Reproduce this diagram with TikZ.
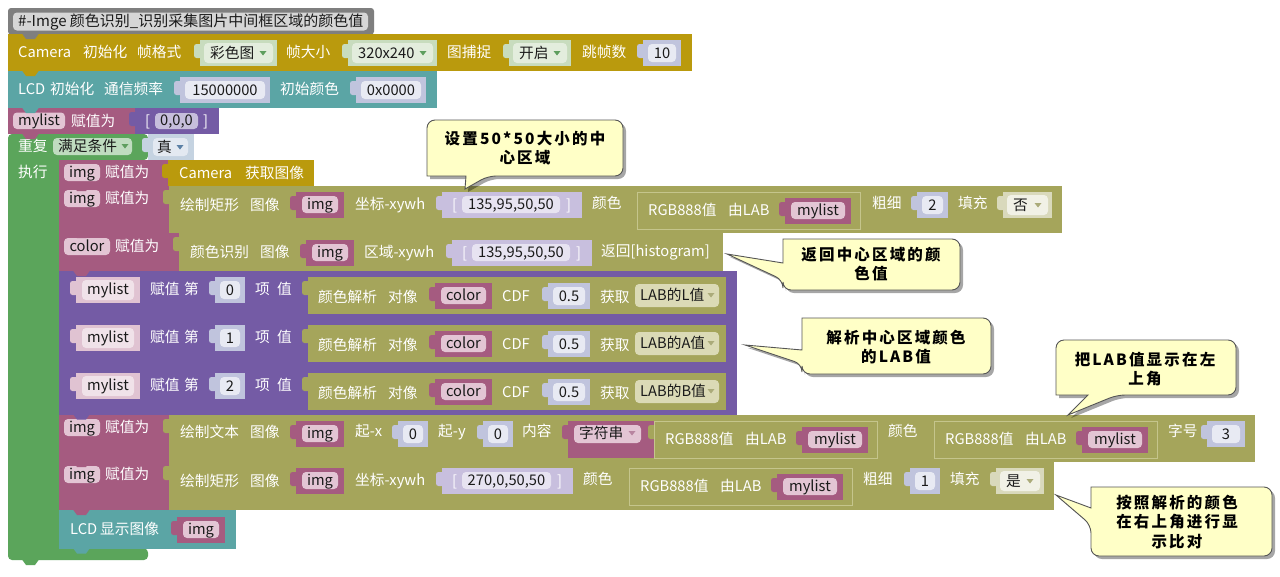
\documentclass[tikz,border=0pt]{standalone}
\usepackage{fontspec}
\setmainfont{Noto Sans CJK SC}
\definecolor{cmt}{HTML}{7F7F7F}
\definecolor{cmti}{HTML}{D6D6D6}
\definecolor{gold}{HTML}{BA9A0D}
\definecolor{tealc}{HTML}{5BA5A5}
\definecolor{magc}{HTML}{A55B80}
\definecolor{pinkp}{HTML}{E3C5D4}
\definecolor{purc}{HTML}{745BA5}
\definecolor{purin}{HTML}{C6BEDC}
\definecolor{grc}{HTML}{5BA55B}
\definecolor{grp}{HTML}{BFDCBF}
\definecolor{fgo}{HTML}{C8DCBE}
\definecolor{fgi}{HTML}{E3EDDD}
\definecolor{numo}{HTML}{C0C4DD}
\definecolor{numi}{HTML}{E8EAF3}
\definecolor{olc}{HTML}{A5A55B}
\definecolor{oll}{HTML}{C5C58C}
\definecolor{labp}{HTML}{DBDAB6}
\definecolor{ddo}{HTML}{D9D9BC}
\definecolor{ddi}{HTML}{F1F1E6}
\definecolor{lso}{HTML}{C8BFDE}
\definecolor{lsi}{HTML}{E7E3F1}
\definecolor{boo}{HTML}{C5D3E1}
\definecolor{booi}{HTML}{E3E9F1}
\definecolor{pvo}{HTML}{E0C3D2}
\definecolor{pvi}{HTML}{F0E2E9}
\definecolor{trg}{HTML}{5E9E5E}
\definecolor{tro}{HTML}{ABAB7A}
\definecolor{trb}{HTML}{5B80A5}
\definecolor{trp}{HTML}{B884A0}
\definecolor{cfill}{HTML}{FFFFC7}
\definecolor{cline}{HTML}{555555}
\definecolor{txd}{HTML}{1A1A1A}
\newcount\nidx
\newcommand\nxt{\global\advance\nidx by 1 }
\tikzset{
  lbl/.style={inner sep=0pt, text=white, font=\fontsize{14.7}{17}\selectfont},
  dk/.style={inner sep=0pt, text=txd, font=\fontsize{14.7}{17}\selectfont},
  cmtxt/.style={inner sep=0pt, text=txd, font=\fontsize{15}{17}\selectfont},
  callbox/.style={fill=cfill, draw=cline, line width=0.9pt, rounded corners=8},
  callshadow/.style={fill=black, opacity=0.35, rounded corners=8, shift={(3,3)}},
  ctext/.style={inner sep=0pt, align=center, text=black,
    font=\fontsize{15.5}{19.5}\selectfont\bfseries\addfontfeature{LetterSpace=14}},
}
% white label, left, vertical centre y
\newcommand\wl[3]{\nxt\node[lbl,anchor=base west] (n\the\nidx) at ({#1},{#2+5}) {#3};}
\newcommand\dkl[3]{\nxt\node[dk,anchor=base west] (n\the\nidx) at ({#1},{#2+5}) {#3};}
\newcommand\dkc[3]{\nxt\node[dk,anchor=base] (n\the\nidx) at ({#1},{#2+5}) {#3};}
% value block with left puzzle tab
\newcommand\bkv[5]{%
  \fill[#5,rounded corners=2.5] ({#1-6},{#2+4}) rectangle ({#1+2},{#2+18});
  \fill[#5] ({#1},{#2}) rectangle ({#3},{#4});}
\newcommand\bktri[3]{\fill[#3] ({#1-3.5},{#2-2}) -- ({#1+3.5},{#2-2}) -- ({#1},{#2+2.5}) -- cycle;}
\newcommand\pillt[6]{%
  \fill[#5,rounded corners=4] ({#1},{#2}) rectangle ({#3},{#4});
  \dkc{(#1+#3)/2}{(#2+#4)/2}{#6}}
\newcommand\numb[5]{%
  \bkv{#1}{#2}{#3}{#4}{numo}
  \fill[numi,rounded corners=4] ({#1+5},{#2+4}) rectangle ({#3-5},{#4-4});
  \dkc{(#1+#3)/2}{(#2+#4)/2}{#5}}
\newcommand\varb[5]{%
  \bkv{#1}{#2}{#3}{#4}{magc}
  \fill[pinkp,rounded corners=4] ({#1+6},{#2+4}) rectangle ({#3-6},{#4-5});
  \dkc{(#1+#3)/2}{(#2+#4)/2-0.5}{#5}}
\newcommand\listb[5]{%
  \bkv{#1}{#2}{#3}{#4}{lso}
  \wl{#1+10}{(#2+#4)/2}{[}
  \fill[lsi,rounded corners=4] ({#1+20},{#2+4}) rectangle ({#3-22},{#4-5});
  \dkc{(#1+#3)/2-1}{(#2+#4)/2-0.5}{#5}
  \wl{#3-16}{(#2+#4)/2}{]}}
\newcommand\ddf[8]{%
  \bkv{#1}{#2}{#3}{#4}{#5}
  \fill[#6,rounded corners=4] ({#1+4},{#2+3}) rectangle ({#3-4},{#4-3});
  \dkl{#1+10}{(#2+#4)/2}{#7}
  \bktri{#3-14}{(#2+#4)/2}{#8}}
\newcommand\rgbb[2]{%
  \bkv{#1}{#2}{#1+224}{#2+38}{olc}
  \draw[oll,line width=1pt] ({#1+0.5},{#2+0.5}) rectangle ({#1+223.5},{#2+37.5});
  \wl{#1+11}{#2+18}{RGB888值}
  \wl{#1+91}{#2+18}{由LAB}
  \varb{#1+148}{#2+6}{#1+214}{#2+32}{mylist}}
\newcommand\mlrow[3]{%
  \fill[purc] (59,{#1}) rectangle (737,{#1+47.5});
  \bkv{76}{#1+6}{140}{#1+32}{pvo}
  \fill[pvi,rounded corners=4] (82,{#1+9}) rectangle (134,{#1+29});
  \dkc{108}{#1+18.5}{mylist}
  \wl{150}{#1+18}{赋值}
  \wl{184}{#1+18}{第}
  \numb{215}{#1+6}{245}{#1+32}{#2}
  \wl{255}{#1+18}{项}
  \wl{277}{#1+18}{值}
  \bkv{308}{#1+6}{726}{#1+43}{olc}
  \wl{318}{#1+26}{颜色解析}
  \wl{388}{#1+26}{对像}
  \varb{435}{#1+12}{492}{#1+38}{color}
  \wl{502}{#1+25}{CDF}
  \numb{548}{#1+12}{590}{#1+38}{0.5}
  \wl{600}{#1+26}{获取}
  \fill[labp,rounded corners=4] (635,{#1+13}) rectangle (719,{#1+36});
  \dkl{640}{#1+24}{LAB的#3值}
  \bktri{711}{#1+24}{tro}}
\newcommand\btab[3]{\fill[#3] ({#1+14},{#2-0.5}) -- ({#1+18},{#2+5}) -- ({#1+27},{#2+5}) -- ({#1+31},{#2-0.5}) -- cycle;}
\newcommand\ccall[4]{%
  \fill[callshadow] #1;
  \path[callbox] #1;
  \nxt\node[ctext] (c\the\nidx) at (#2,#3) {#4};}
\begin{document}
\begin{tikzpicture}[x=1pt,y=-1pt]
\useasboundingbox (0,0) rectangle (1280,576);
\fill[white] (0,0) rectangle (1280,576);
% ---------- comment
\fill[cmt,rounded corners=3] (8,8) rectangle (374,34.5);
\fill[cmti,rounded corners=4] (13,12.5) rectangle (368,30.5);
\nxt\node[cmtxt,anchor=base west] (n\the\nidx) at (18,26.5) {\#-Imge 颜色识别\_识别采集图片中间框区域的颜色值};
% ---------- Camera init
\fill[gold] (8,34) rectangle (692,71);
\wl{18}{52}{Camera}
\wl{83}{52}{初始化}
\wl{137}{52}{帧格式}
\ddf{200}{40}{277}{66}{fgo}{fgi}{彩色图}{trg}
\wl{286}{52}{帧大小}
\ddf{348}{40}{437}{66}{fgo}{fgi}{320x240}{trg}
\wl{447}{52}{图捕捉}
\ddf{509}{40}{571}{66}{fgo}{fgi}{开启}{trg}
\wl{582}{52}{跳帧数}
\numb{643}{40}{681}{66}{10}
% ---------- LCD init
\fill[tealc] (8,71) rectangle (437,108);
\wl{18}{89}{LCD}
\wl{50}{89}{初始化}
\wl{104}{89}{通信频率}
\numb{180}{77}{270}{103}{15000000}
\wl{280}{89}{初始颜色}
\numb{356}{77}{426}{103}{0x0000}
% ---------- mylist
\fill[magc] (8,108) rectangle (135,134);
\pillt{13}{112.5}{65}{129}{pinkp}{mylist}
\wl{71}{121}{赋值为}
\bkv{135}{108}{219}{134}{purc}
\wl{145}{121}{[}
\fill[purin,rounded corners=4] (155,113) rectangle (198,129);
\dkc{176.5}{120.5}{0,0,0}
\wl{203}{121}{]}
% ---------- loop
\fill[grc,rounded corners=4] (8,134) -- (148,134) -- (148,160) -- (59,160) -- (59,548.5) -- (148,548.5) -- (148,560) -- (8,560) -- cycle;
\wl{18}{146}{重复}
\fill[grp,rounded corners=4] (53,138) rectangle (132,155);
\dkl{58}{146}{满足条件}
\bktri{125}{146}{trg}
\bkv{148}{134}{194}{160}{boo}
\fill[booi,rounded corners=4] (153,138) rectangle (188,156);
\dkl{157}{147}{真}
\bktri{180}{147}{trb}
\wl{18}{172}{执行}
% ---------- S1
\fill[magc] (59,160) rectangle (168,186);
\pillt{64}{164}{100}{181}{pinkp}{img}
\wl{105}{172}{赋值为}
\bkv{168}{160}{314}{186}{gold}
\wl{179}{173}{Camera}
\wl{245}{173}{获取图像}
% ---------- S2
\fill[magc] (59,186) rectangle (169,233);
\pillt{64}{190}{100}{207}{pinkp}{img}
\wl{105}{198}{赋值为}
\bkv{169}{186}{1062}{233}{olc}
\wl{180}{205}{绘制矩形}
\wl{250}{205}{图像}
\varb{296}{192}{344}{218}{img}
\wl{355}{204}{坐标-xywh}
\listb{442}{192}{582}{218}{135,95,50,50}
\wl{592}{203}{颜色}
\rgbb{637}{192}
\wl{872}{203}{粗细}
\numb{917}{192}{948}{218}{2}
\wl{958}{203}{填充}
\ddf{1003}{192}{1052}{218}{ddo}{ddi}{否}{tro}
% ---------- S3
\fill[magc] (59,233) rectangle (179,271);
\pillt{64}{238}{110}{255}{pinkp}{color}
\wl{115}{246}{赋值为}
\bkv{179}{233}{723}{271}{olc}
\wl{190}{252}{颜色识别}
\wl{260}{252}{图像}
\varb{306}{240}{354}{266}{img}
\wl{364}{252}{区域-xywh}
\listb{452}{240}{592}{266}{135,95,50,50}
\wl{601}{251}{返回[histogram]}
% ---------- S4-S6
\mlrow{271}{0}{L}
\mlrow{319}{1}{A}
\mlrow{367}{2}{B}
% ---------- S7
\fill[magc] (59,415) rectangle (169,462);
\pillt{64}{419}{100}{436}{pinkp}{img}
\wl{105}{427}{赋值为}
\bkv{169}{415}{1255}{462}{olc}
\wl{180}{432}{绘制文本}
\wl{250}{432}{图像}
\varb{296}{421}{344}{447}{img}
\wl{355}{431}{起-x}
\numb{398}{421}{428}{447}{0}
\wl{438}{431}{起-y}
\numb{483}{421}{513}{447}{0}
\wl{522}{431}{内容}
\bkv{568}{421}{654}{458}{magc}
\fill[pinkp,rounded corners=4] (574,425) rectangle (641,443);
\dkl{579}{433.5}{字符串}
\bktri{632}{433}{trp}
\rgbb{654}{421}
\wl{888}{431}{颜色}
\rgbb{934}{421}
\wl{1168}{431}{字号}
\numb{1207}{421}{1245}{447}{3}
% ---------- S8
\fill[magc] (59,462) rectangle (169,510);
\pillt{64}{466}{100}{483}{pinkp}{img}
\wl{105}{474}{赋值为}
\bkv{169}{462}{1054}{510}{olc}
\wl{180}{481}{绘制矩形}
\wl{250}{481}{图像}
\varb{296}{468}{344}{494}{img}
\wl{355}{480}{坐标-xywh}
\listb{442}{468}{573}{494}{270,0,50,50}
\wl{583}{479}{颜色}
\rgbb{629}{468}
\wl{863}{479}{粗细}
\numb{910}{468}{940}{494}{1}
\wl{950}{479}{填充}
\ddf{996}{468}{1044}{494}{ddo}{ddi}{是}{tro}
% ---------- S9
\fill[tealc] (59,510) rectangle (236,548.5);
\wl{70}{529}{LCD}
\wl{100}{529}{显示图像}
\varb{177}{517}{225}{543}{img}
% ---------- bottom tabs
\btab{8}{34}{cmt}
\btab{8}{71}{gold}
\btab{8}{108}{tealc}
\btab{8}{134}{magc}
\btab{8}{560}{grc}
\btab{59}{186}{magc}
\btab{59}{233}{magc}
\btab{59}{271}{magc}
\btab{59}{318.5}{purc}
\btab{59}{366.5}{purc}
\btab{59}{414.5}{purc}
\btab{59}{462}{magc}
\btab{59}{510}{magc}
\btab{59}{548.5}{tealc}
% ---------- callouts
\ccall{(525,120) -- (623,120) -- (623,176) -- (488,176) [sharp corners] -- (465,189) -- (466,176) -- (427,176) [rounded corners=8] -- (427,120) -- cycle}{525}{148}{设置50*50大小的中\\心区域}
\ccall{(871,239) -- (960,239) -- (960,290) -- (783,290) -- (783,280) [sharp corners] -- (727,254) -- (783,263) -- (783,239) [rounded corners=8] -- cycle}{871}{264}{返回中心区域的颜\\色值}
\ccall{(896,318) -- (991,318) -- (991,374) -- (802,374) -- (802,364) [sharp corners] -- (745,345) -- (802,350) -- (802,318) [rounded corners=8] -- cycle}{896}{347}{解析中心区域颜色\\的LAB值}
\ccall{(1146,340) -- (1236,340) -- (1236,395) -- (1117,395) [sharp corners] -- (1068,415) -- (1088,395) -- (1056,395) [rounded corners=8] -- (1056,340) -- cycle}{1145}{369}{把LAB值显示在左\\上角}
\ccall{(1181,487) -- (1272,487) -- (1272,556) -- (1091,556) -- (1091,525) [sharp corners] -- (1056,495) -- (1091,508) -- (1091,487) [rounded corners=8] -- cycle}{1177}{522}{按照解析的颜色\\在右上角进行显\\示比对}
\end{tikzpicture}
\end{document}
